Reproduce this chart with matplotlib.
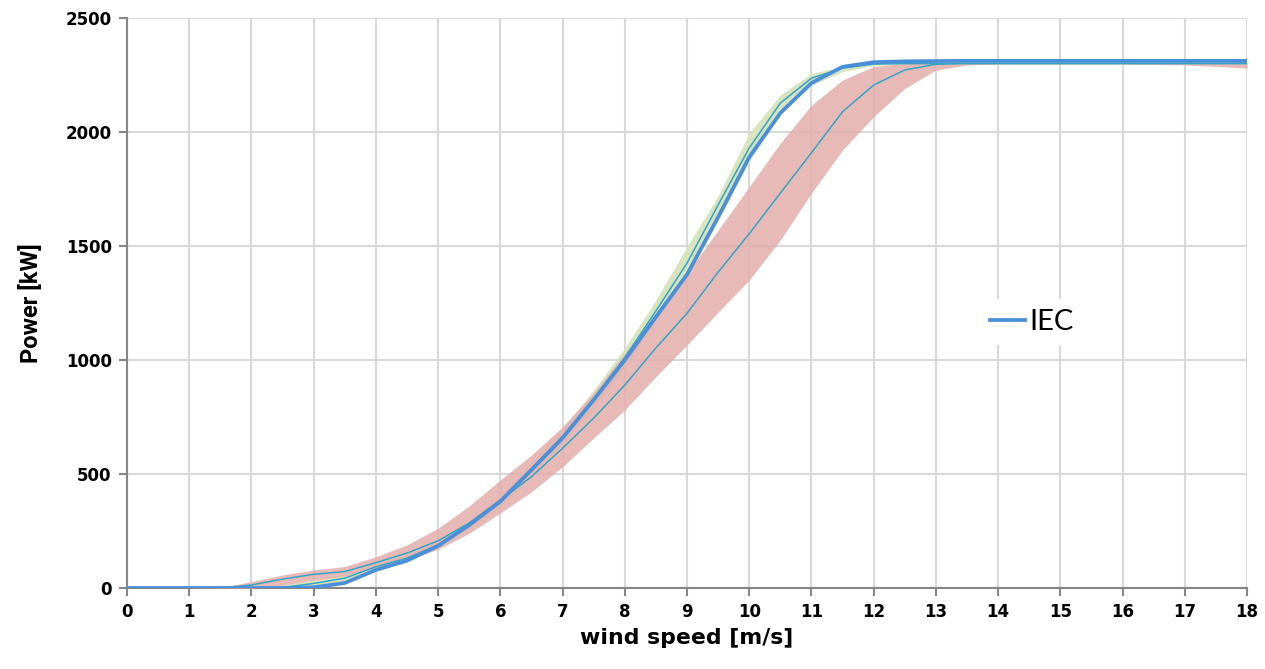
import numpy as np
import matplotlib
matplotlib.use("Agg")
import matplotlib.pyplot as plt

# wind speed bins [m/s], 0 .. 18 in 0.5 steps
wind = np.arange(0, 18.5, 0.5)

# IEC power curve [kW]
iec = [0, 0, 0, 0, 0, 0, 3,
       22, 79, 120, 185, 276, 380, 518, 658, 825, 1000,
       1189, 1375, 1627, 1890, 2083, 2215, 2286, 2306, 2310, 2311,
       2312, 2312, 2312, 2312, 2312, 2312, 2312, 2312, 2312, 2312]

# model A: mean and spread
model_a = [0, 0, 0, 0, 0, 2, 20,
           43, 93, 131, 189, 280, 380, 520, 665, 830, 1010,
           1215, 1425, 1680, 1930, 2127, 2236, 2280, 2298, 2300, 2300,
           2300, 2300, 2300, 2300, 2300, 2300, 2300, 2300, 2300, 2300]
model_a_hi = [0, 0, 0, 0, 4, 15, 35,
              60, 105, 145, 205, 300, 405, 550, 700, 868, 1052,
              1263, 1497, 1720, 1995, 2162, 2257, 2287, 2300, 2304, 2305,
              2305, 2305, 2305, 2305, 2305, 2305, 2305, 2305, 2305, 2305]
model_a_lo = [0, 0, 0, 0, 0, 0, 5,
              25, 80, 118, 175, 262, 360, 495, 635, 795, 970,
              1170, 1360, 1610, 1870, 2080, 2205, 2265, 2292, 2296, 2298,
              2298, 2298, 2298, 2298, 2298, 2298, 2298, 2298, 2298, 2298]

# model B: mean and spread
model_b = [0, 0, 0, 0, 13, 39, 60,
           72, 111, 153, 207, 285, 385, 488, 613, 745, 890,
           1053, 1205, 1385, 1554, 1732, 1909, 2089, 2206, 2272, 2297,
           2302, 2302, 2302, 2302, 2302, 2302, 2302, 2302, 2302, 2302]
model_b_hi = [0, 0, 0, 2, 28, 57, 79,
              94, 137, 189, 262, 360, 474, 583, 707, 855, 1030,
              1200, 1380, 1570, 1760, 1951, 2118, 2228, 2287, 2301, 2305,
              2305, 2305, 2305, 2305, 2305, 2305, 2305, 2305, 2305, 2305]
model_b_lo = [0, 0, 0, 0, 0, 13, 35,
              53, 88, 123, 170, 240, 329, 422, 532, 658, 781,
              927, 1066, 1210, 1351, 1526, 1732, 1921, 2067, 2191, 2272,
              2294, 2298, 2298, 2298, 2298, 2298, 2296, 2294, 2288, 2280]

x_ticks = list(range(0, 19))
y_ticks = [0, 500, 1000, 1500, 2000, 2500]

fig = plt.figure(figsize=(12.65, 6.69), dpi=100)
ax = fig.add_axes([0.1004, 0.1211, 0.8854, 0.852])

ax.fill_between(wind, model_a_lo, model_a_hi, color="#d7e4bd", lw=0, zorder=2)
ax.fill_between(wind, model_b_lo, model_b_hi, color="#e3aeac", alpha=0.85, lw=0, zorder=3)
ax.plot(wind, model_a, color="#35a4c4", lw=1.1, zorder=4)
ax.plot(wind, model_b, color="#35a4c4", lw=1.1, zorder=4)
ax.plot(wind, iec, color="#4a8fd9", lw=2.7, zorder=5, label="IEC")

ax.set_xlim(0, 18)
ax.set_ylim(0, 2500)
ax.set_xticks(x_ticks)
ax.set_yticks(y_ticks)
ax.grid(True, color="#d9d9d9", lw=1.5, zorder=0)
ax.set_axisbelow(True)

for s in ("top", "right"):
    ax.spines[s].set_visible(False)
for s in ("left", "bottom"):
    ax.spines[s].set_color("#868686")
    ax.spines[s].set_linewidth(1.5)
ax.tick_params(axis="both", direction="out", length=6, width=1.5, color="#868686",
               labelsize=12, pad=5)
for lbl in ax.get_xticklabels() + ax.get_yticklabels():
    lbl.set_fontweight("bold")

ax.set_xlabel("wind speed [m/s]", fontsize=15.8, fontweight="bold", labelpad=5)
ax.set_ylabel("Power [kW]", fontsize=17, fontweight="bold", family="Roboto", labelpad=16)

leg = ax.legend(loc="center", bbox_to_anchor=(0.808, 0.467), frameon=True,
                facecolor="white", edgecolor="none", framealpha=1, fancybox=False,
                handlelength=1.2, handletextpad=0.15, borderpad=0.35,
                prop={"family": "Lato", "size": 21})
leg.set_zorder(6)

fig.savefig("out.png", dpi=100)
